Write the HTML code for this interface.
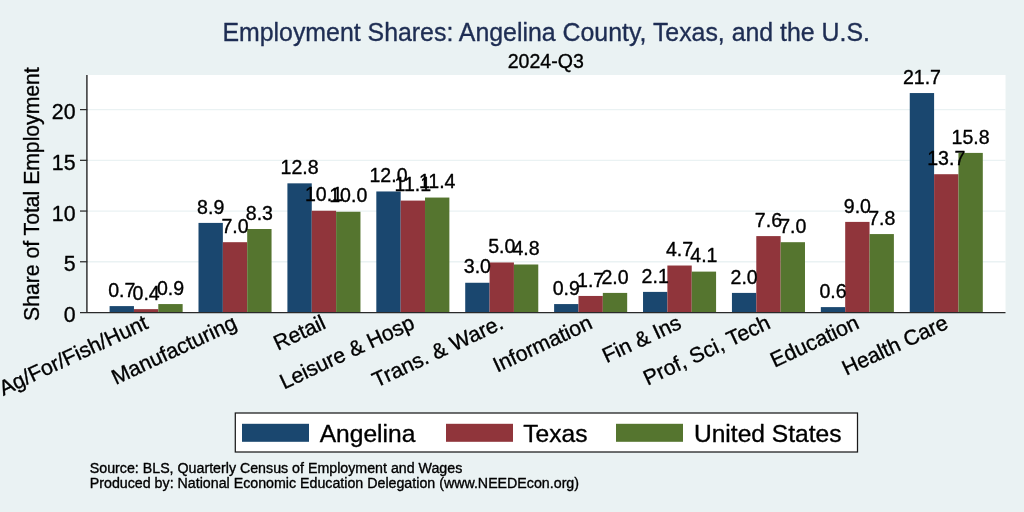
<!DOCTYPE html>
<html lang="en"><head><meta charset="utf-8"><title>Employment Shares</title>
<style>html,body{margin:0;padding:0;background:#EAF2F3;overflow:hidden}svg{display:block}text{font-family:"Liberation Sans",Arial,Helvetica,sans-serif;fill:#000;stroke:#000;stroke-width:0.35px;stroke-linejoin:round}</style></head><body>
<svg width="1024" height="512" viewBox="0 0 1024 512">
<rect x="0" y="0" width="1024" height="512" fill="#EAF2F3"/>
<rect x="87.25" y="75.00" width="918.25" height="237.50" fill="#fff"/>
<line x1="87.25" x2="1005.50" y1="261.77" y2="261.77" stroke="#EAF2F3" stroke-width="1.3"/>
<line x1="87.25" x2="1005.50" y1="211.05" y2="211.05" stroke="#EAF2F3" stroke-width="1.3"/>
<line x1="87.25" x2="1005.50" y1="160.33" y2="160.33" stroke="#EAF2F3" stroke-width="1.3"/>
<line x1="87.25" x2="1005.50" y1="109.60" y2="109.60" stroke="#EAF2F3" stroke-width="1.3"/>
<rect x="109.60" y="306.10" width="24.35" height="6.40" fill="#1A476F"/>
<rect x="133.95" y="309.14" width="24.35" height="3.36" fill="#90353B"/>
<rect x="158.30" y="304.07" width="24.35" height="8.43" fill="#55752F"/>
<rect x="198.50" y="222.91" width="24.35" height="89.59" fill="#1A476F"/>
<rect x="222.85" y="242.19" width="24.35" height="70.31" fill="#90353B"/>
<rect x="247.20" y="229.00" width="24.35" height="83.50" fill="#55752F"/>
<rect x="287.41" y="183.34" width="24.35" height="129.16" fill="#1A476F"/>
<rect x="311.76" y="210.74" width="24.35" height="101.76" fill="#90353B"/>
<rect x="336.11" y="211.75" width="24.35" height="100.75" fill="#55752F"/>
<rect x="376.32" y="191.46" width="24.35" height="121.04" fill="#1A476F"/>
<rect x="400.67" y="200.59" width="24.35" height="111.91" fill="#90353B"/>
<rect x="425.02" y="197.55" width="24.35" height="114.95" fill="#55752F"/>
<rect x="465.22" y="282.76" width="24.35" height="29.73" fill="#1A476F"/>
<rect x="489.57" y="262.48" width="24.35" height="50.02" fill="#90353B"/>
<rect x="513.92" y="264.50" width="24.35" height="48.00" fill="#55752F"/>
<rect x="554.12" y="304.07" width="24.35" height="8.43" fill="#1A476F"/>
<rect x="578.48" y="295.95" width="24.35" height="16.55" fill="#90353B"/>
<rect x="602.83" y="292.91" width="24.35" height="19.59" fill="#55752F"/>
<rect x="643.03" y="291.90" width="24.35" height="20.60" fill="#1A476F"/>
<rect x="667.38" y="265.52" width="24.35" height="46.98" fill="#90353B"/>
<rect x="691.73" y="271.61" width="24.35" height="40.89" fill="#55752F"/>
<rect x="731.94" y="292.91" width="24.35" height="19.59" fill="#1A476F"/>
<rect x="756.29" y="236.10" width="24.35" height="76.40" fill="#90353B"/>
<rect x="780.64" y="242.19" width="24.35" height="70.31" fill="#55752F"/>
<rect x="820.84" y="307.11" width="24.35" height="5.39" fill="#1A476F"/>
<rect x="845.19" y="221.90" width="24.35" height="90.60" fill="#90353B"/>
<rect x="869.54" y="234.07" width="24.35" height="78.43" fill="#55752F"/>
<rect x="909.75" y="93.05" width="24.35" height="219.45" fill="#1A476F"/>
<rect x="934.10" y="174.21" width="24.35" height="138.29" fill="#90353B"/>
<rect x="958.45" y="152.91" width="24.35" height="159.59" fill="#55752F"/>
<line x1="86.90" x2="86.90" y1="75.00" y2="313.10" stroke="#333" stroke-width="1.5"/>
<line x1="80.00" x2="1005.50" y1="312.50" y2="312.50" stroke="#2a2a2a" stroke-width="1.25"/>
<line x1="80" x2="87.25" y1="261.77" y2="261.77" stroke="#2a2a2a" stroke-width="1.25"/>
<line x1="80" x2="87.25" y1="211.05" y2="211.05" stroke="#2a2a2a" stroke-width="1.25"/>
<line x1="80" x2="87.25" y1="160.33" y2="160.33" stroke="#2a2a2a" stroke-width="1.25"/>
<line x1="80" x2="87.25" y1="109.60" y2="109.60" stroke="#2a2a2a" stroke-width="1.25"/>
<text x="75.5" y="322.04" font-size="21.33" text-anchor="end">0</text>
<text x="75.5" y="271.31" font-size="21.33" text-anchor="end">5</text>
<text x="75.5" y="220.59" font-size="21.33" text-anchor="end">10</text>
<text x="75.5" y="169.86" font-size="21.33" text-anchor="end">15</text>
<text x="75.5" y="119.14" font-size="21.33" text-anchor="end">20</text>
<text transform="translate(38.9,194.1) rotate(-90)" font-size="21.16" text-anchor="middle">Share of Total Employment</text>
<text x="121.77" y="296.80" font-size="19.56" text-anchor="middle">0.7</text>
<text x="146.12" y="299.84" font-size="19.56" text-anchor="middle">0.4</text>
<text x="170.48" y="294.77" font-size="19.56" text-anchor="middle">0.9</text>
<text x="210.68" y="213.61" font-size="19.56" text-anchor="middle">8.9</text>
<text x="235.03" y="232.89" font-size="19.56" text-anchor="middle">7.0</text>
<text x="259.38" y="219.70" font-size="19.56" text-anchor="middle">8.3</text>
<text x="299.58" y="174.04" font-size="19.56" text-anchor="middle">12.8</text>
<text x="323.94" y="201.44" font-size="19.56" text-anchor="middle">10.1</text>
<text x="348.28" y="202.45" font-size="19.56" text-anchor="middle">10.0</text>
<text x="388.49" y="182.16" font-size="19.56" text-anchor="middle">12.0</text>
<text x="412.84" y="191.29" font-size="19.56" text-anchor="middle">11.1</text>
<text x="437.19" y="188.25" font-size="19.56" text-anchor="middle">11.4</text>
<text x="477.40" y="273.46" font-size="19.56" text-anchor="middle">3.0</text>
<text x="501.75" y="253.17" font-size="19.56" text-anchor="middle">5.0</text>
<text x="526.10" y="255.20" font-size="19.56" text-anchor="middle">4.8</text>
<text x="566.30" y="294.77" font-size="19.56" text-anchor="middle">0.9</text>
<text x="590.65" y="286.65" font-size="19.56" text-anchor="middle">1.7</text>
<text x="615.00" y="283.61" font-size="19.56" text-anchor="middle">2.0</text>
<text x="655.21" y="282.60" font-size="19.56" text-anchor="middle">2.1</text>
<text x="679.56" y="256.22" font-size="19.56" text-anchor="middle">4.7</text>
<text x="703.91" y="262.31" font-size="19.56" text-anchor="middle">4.1</text>
<text x="744.11" y="283.61" font-size="19.56" text-anchor="middle">2.0</text>
<text x="768.46" y="226.80" font-size="19.56" text-anchor="middle">7.6</text>
<text x="792.81" y="232.89" font-size="19.56" text-anchor="middle">7.0</text>
<text x="833.01" y="297.81" font-size="19.56" text-anchor="middle">0.6</text>
<text x="857.37" y="212.59" font-size="19.56" text-anchor="middle">9.0</text>
<text x="881.72" y="224.77" font-size="19.56" text-anchor="middle">7.8</text>
<text x="921.92" y="83.75" font-size="19.56" text-anchor="middle">21.7</text>
<text x="946.27" y="164.91" font-size="19.56" text-anchor="middle">13.7</text>
<text x="970.62" y="143.61" font-size="19.56" text-anchor="middle">15.8</text>
<text transform="translate(146.12,320.90) rotate(-25)" font-size="21.33" text-anchor="end" dy="0.355em">Ag/For/Fish/Hunt</text>
<text transform="translate(235.03,320.90) rotate(-25)" font-size="21.33" text-anchor="end" dy="0.355em">Manufacturing</text>
<text transform="translate(323.93,320.90) rotate(-25)" font-size="21.33" text-anchor="end" dy="0.355em">Retail</text>
<text transform="translate(412.84,320.90) rotate(-25)" font-size="21.33" text-anchor="end" dy="0.355em">Leisure &amp; Hosp</text>
<text transform="translate(501.75,320.90) rotate(-25)" font-size="21.33" text-anchor="end" dy="0.355em">Trans. &amp; Ware.</text>
<text transform="translate(590.65,320.90) rotate(-25)" font-size="21.33" text-anchor="end" dy="0.355em">Information</text>
<text transform="translate(679.56,320.90) rotate(-25)" font-size="21.33" text-anchor="end" dy="0.355em">Fin &amp; Ins</text>
<text transform="translate(768.46,320.90) rotate(-25)" font-size="21.33" text-anchor="end" dy="0.355em">Prof, Sci, Tech</text>
<text transform="translate(857.37,320.90) rotate(-25)" font-size="21.33" text-anchor="end" dy="0.355em">Education</text>
<text transform="translate(946.27,320.90) rotate(-25)" font-size="21.33" text-anchor="end" dy="0.355em">Health Care</text>
<text x="546.2" y="40.8" font-size="24.89" text-anchor="middle" style="fill:#1E2D53;stroke:#1E2D53">Employment Shares: Angelina County, Texas, and the U.S.</text>
<text x="545.8" y="67.5" font-size="19.56" text-anchor="middle">2024-Q3</text>
<rect x="235.3" y="413" width="622.2" height="39" fill="#fff" stroke="#1a1a1a" stroke-width="1.25"/>
<rect x="242.00" y="423.8" width="67" height="18" fill="#1A476F"/>
<text x="319.70" y="442.1" font-size="24.60">Angelina</text>
<rect x="446.00" y="423.8" width="67" height="18" fill="#90353B"/>
<text x="523.20" y="442.1" font-size="24.60">Texas</text>
<rect x="616.00" y="423.8" width="67" height="18" fill="#55752F"/>
<text x="693.90" y="442.1" font-size="24.60">United States</text>
<text x="89.8" y="472.5" font-size="14.22">Source: BLS, Quarterly Census of Employment and Wages</text>
<text x="89.8" y="487.5" font-size="14.22">Produced by: National Economic Education Delegation (www.NEEDEcon.org)</text>
</svg></body></html>
